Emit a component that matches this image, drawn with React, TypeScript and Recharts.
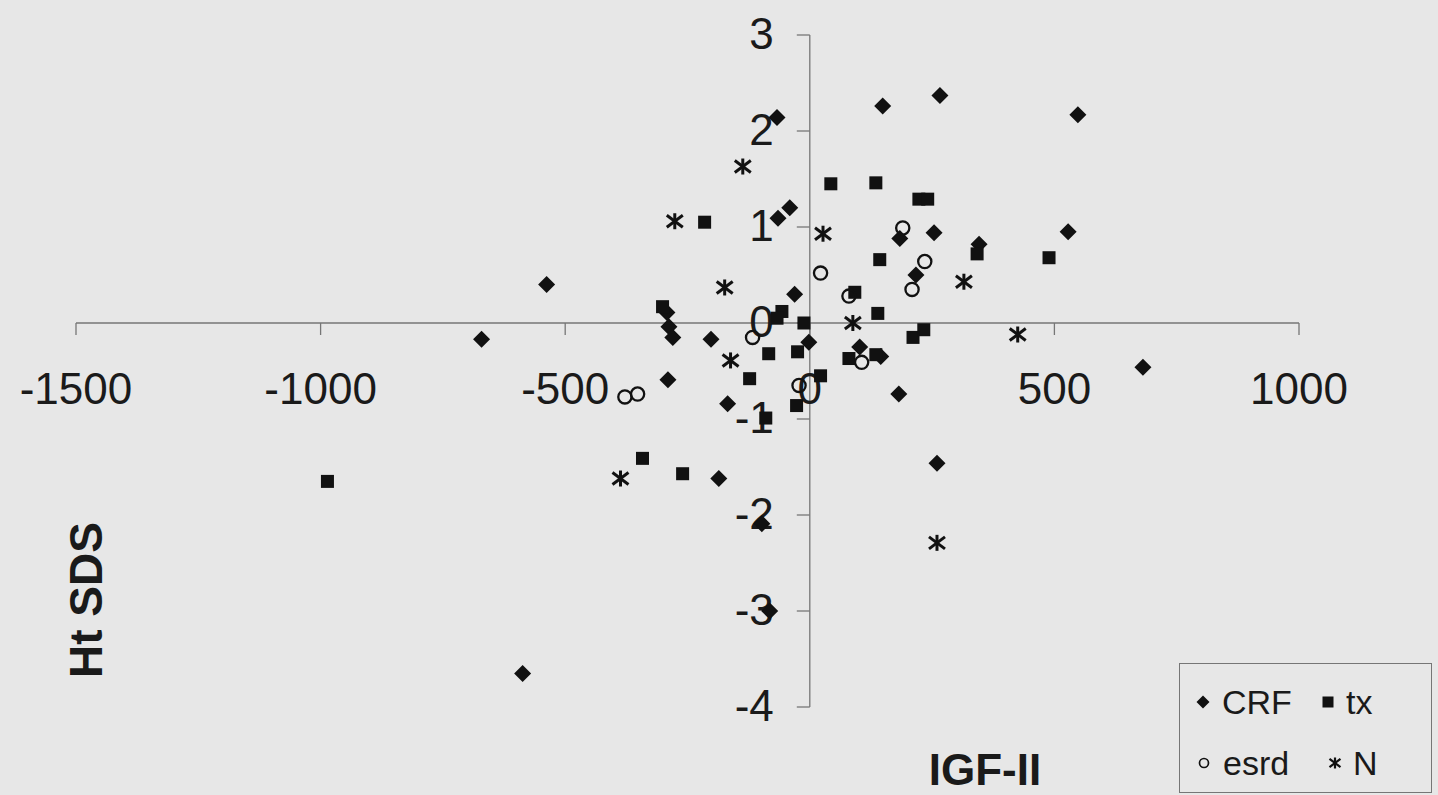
import React from "react";
import {
  ReferenceDot,
  ReferenceLine,
  Scatter,
  ScatterChart,
  XAxis,
  YAxis,
} from "recharts";

type Pt = { x: number; y: number };

// IGF-II (x) against height SDS (y)
const crf: Pt[] = [
  { x: 149, y: 2.26 }, { x: 266, y: 2.37 }, { x: 548, y: 2.17 }, { x: -67, y: 2.14 },
  { x: -41, y: 1.2 }, { x: -65, y: 1.09 }, { x: 184, y: 0.88 }, { x: 254, y: 0.94 },
  { x: 528, y: 0.95 }, { x: 346, y: 0.82 }, { x: 217, y: 0.5 }, { x: -538, y: 0.4 },
  { x: -31, y: 0.3 }, { x: -292, y: 0.11 }, { x: -288, y: -0.04 }, { x: -280, y: -0.15 },
  { x: -671, y: -0.17 }, { x: -202, y: -0.17 }, { x: -2, y: -0.2 }, { x: 102, y: -0.25 },
  { x: 145, y: -0.35 }, { x: -290, y: -0.59 }, { x: 681, y: -0.46 }, { x: -168, y: -0.84 },
  { x: 182, y: -0.74 }, { x: 260, y: -1.46 }, { x: -186, y: -1.62 }, { x: -98, y: -2.09 },
  { x: -82, y: -3.0 }, { x: -587, y: -3.65 },
];

const tx: Pt[] = [
  { x: 43, y: 1.45 }, { x: 135, y: 1.46 }, { x: 223, y: 1.29 }, { x: 241, y: 1.29 },
  { x: -215, y: 1.05 }, { x: 342, y: 0.72 }, { x: 489, y: 0.68 }, { x: 143, y: 0.66 },
  { x: 92, y: 0.32 }, { x: 139, y: 0.1 }, { x: -301, y: 0.17 }, { x: -57, y: 0.12 },
  { x: -67, y: 0.05 }, { x: -12, y: 0.0 }, { x: 211, y: -0.15 }, { x: 233, y: -0.07 },
  { x: -25, y: -0.3 }, { x: -84, y: -0.32 }, { x: 80, y: -0.37 }, { x: 135, y: -0.33 },
  { x: -123, y: -0.58 }, { x: 22, y: -0.55 }, { x: -27, y: -0.86 }, { x: -90, y: -0.99 },
  { x: -342, y: -1.41 }, { x: -260, y: -1.57 }, { x: -986, y: -1.65 },
];

const esrd: Pt[] = [
  { x: 22, y: 0.52 }, { x: 190, y: 0.99 }, { x: 235, y: 0.64 }, { x: 209, y: 0.35 },
  { x: 80, y: 0.28 }, { x: -117, y: -0.15 }, { x: 106, y: -0.41 }, { x: -22, y: -0.65 },
  { x: -378, y: -0.77 }, { x: -352, y: -0.74 },
];

const normal: Pt[] = [
  { x: -137, y: 1.63 }, { x: -276, y: 1.06 }, { x: 27, y: 0.93 }, { x: -174, y: 0.37 },
  { x: 315, y: 0.43 }, { x: 88, y: 0.0 }, { x: -162, y: -0.39 }, { x: 425, y: -0.12 },
  { x: -387, y: -1.62 }, { x: 260, y: -2.29 },
];

const xTicks = [-1500, -1000, -500, 0, 500, 1000];
const yTicks = [3, 2, 1, 0, -1, -2, -3, -4];

const bg = "#e7e7e7";
const ink = "#111111";
const axisColor = "#767676";
const font = "'Liberation Sans', Arial, sans-serif";

function Diamond({ cx, cy, s = 8.5 }: any) {
  return (
    <polygon
      points={`${cx},${cy - s} ${cx + s},${cy} ${cx},${cy + s} ${cx - s},${cy}`}
      fill={ink}
    />
  );
}

function Square({ cx, cy, s = 13 }: any) {
  return <rect x={cx - s / 2} y={cy - s / 2} width={s} height={s} fill={ink} />;
}

function Ring({ cx, cy, r = 6.6, w = 2.3 }: any) {
  return <circle cx={cx} cy={cy} r={r} fill="none" stroke={ink} strokeWidth={w} />;
}

function Star({ cx, cy, s = 8, w = 3 }: any) {
  return (
    <g stroke={ink} strokeWidth={w}>
      <line x1={cx} y1={cy - s} x2={cx} y2={cy + s} />
      <line x1={cx - s} y1={cy - s * 0.75} x2={cx + s} y2={cy + s * 0.75} />
      <line x1={cx + s} y1={cy - s * 0.75} x2={cx - s} y2={cy + s * 0.75} />
    </g>
  );
}

function XTick(props: any) {
  const { cx, cy, x } = props;
  return (
    <g>
      <line x1={cx} y1={cy} x2={cx} y2={cy + 12} stroke={axisColor} strokeWidth={1.3} />
      <text
        x={cx}
        y={cy + 65}
        textAnchor="middle"
        dominantBaseline="central"
        fontSize={44}
        fontFamily={font}
        fill="#1a1a1a"
      >
        {x}
      </text>
    </g>
  );
}

function YTick(props: any) {
  const { cx, cy, y } = props;
  return (
    <g>
      <line x1={cx - 13} y1={cy} x2={cx} y2={cy} stroke={axisColor} strokeWidth={1.3} />
      <text
        x={cx - 36}
        y={cy - 2}
        textAnchor="end"
        dominantBaseline="central"
        fontSize={44}
        fontFamily={font}
        fill="#1a1a1a"
      >
        {y}
      </text>
    </g>
  );
}

function LegendBox() {
  const text = { fontSize: 34, fontFamily: font, fill: "#1a1a1a" };
  return (
    <svg
      width={253}
      height={130}
      style={{ position: "absolute", left: 1179, top: 663 }}
    >
      <rect x={0.5} y={0.5} width={252} height={129} fill={bg} stroke={axisColor} />
      <Diamond cx={24} cy={39} s={6.5} />
      <text x={43} y={39} dominantBaseline="central" {...text}>CRF</text>
      <Square cx={149} cy={39} s={11} />
      <text x={167} y={39} dominantBaseline="central" {...text}>tx</text>
      <Ring cx={25} cy={100} r={4.5} w={1.7} />
      <text x={44} y={100} dominantBaseline="central" {...text}>esrd</text>
      <Star cx={156} cy={100} s={5.5} w={2.2} />
      <text x={174} y={100} dominantBaseline="central" {...text}>N</text>
    </svg>
  );
}

export default function App() {
  return (
    <div
      style={{
        position: "absolute",
        left: 0,
        top: 0,
        width: 1438,
        height: 795,
        background: bg,
        overflow: "hidden",
      }}
    >
      <ScatterChart
        width={1438}
        height={795}
        margin={{ top: 35, right: 139, bottom: 88, left: 76 }}
      >
        <XAxis type="number" dataKey="x" domain={[-1500, 1000]} hide />
        <YAxis type="number" dataKey="y" domain={[-4, 3]} hide />
        <ReferenceLine x={0} stroke={axisColor} strokeWidth={1.3} />
        <ReferenceLine y={0} stroke={axisColor} strokeWidth={1.3} />
        {xTicks.map((t) => (
          <ReferenceDot key={`x${t}`} x={t} y={0} r={0} shape={XTick} />
        ))}
        {yTicks.map((t) => (
          <ReferenceDot key={`y${t}`} x={0} y={t} r={0} shape={YTick} />
        ))}
        <Scatter name="CRF" data={crf} shape={Diamond} isAnimationActive={false} />
        <Scatter name="tx" data={tx} shape={Square} isAnimationActive={false} />
        <Scatter name="esrd" data={esrd} shape={Ring} isAnimationActive={false} />
        <Scatter name="N" data={normal} shape={Star} isAnimationActive={false} />
      </ScatterChart>
      <div
        style={{
          position: "absolute",
          left: 86,
          top: 600,
          transform: "translate(-50%, -50%) rotate(-90deg)",
          fontFamily: font,
          fontWeight: "bold",
          fontSize: 46,
          lineHeight: "40px",
          color: "#1a1a1a",
          whiteSpace: "nowrap",
        }}
      >
        Ht SDS
      </div>
      <div
        style={{
          position: "absolute",
          left: 985,
          top: 770,
          transform: "translate(-50%, -50%)",
          fontFamily: font,
          fontWeight: "bold",
          fontSize: 44,
          lineHeight: "36px",
          color: "#1a1a1a",
          whiteSpace: "nowrap",
        }}
      >
        IGF-II
      </div>
      <LegendBox />
    </div>
  );
}
